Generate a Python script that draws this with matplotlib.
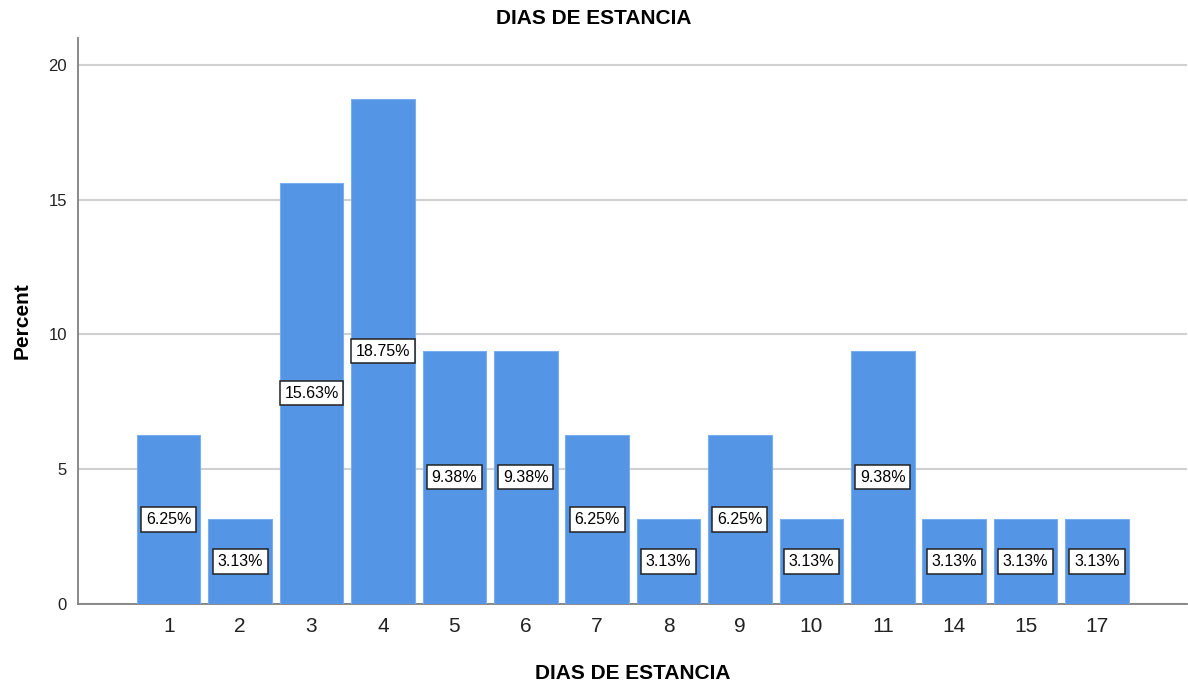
import matplotlib
matplotlib.use("Agg")
import matplotlib.pyplot as plt

categories = ["1", "2", "3", "4", "5", "6", "7", "8", "9", "10", "11", "14", "15", "17"]
percents = [6.25, 3.13, 15.63, 18.75, 9.38, 9.38, 6.25, 3.13, 6.25, 3.13, 9.38, 3.13, 3.13, 3.13]
yticks = [0, 5, 10, 15, 20]

plt.rcParams['font.family'] = ['Liberation Sans', 'DejaVu Sans']

fig = plt.figure(figsize=(11.88, 6.87), dpi=100)
ax = fig.add_axes([78/1188, 1-603.5/687, (1187-78)/1188, (603.5-38)/687])

x = list(range(len(categories)))
ax.bar(x, percents, width=0.89, color='#5595e5', edgecolor='#7aaeee', linewidth=0.8, zorder=3)

for xi, v in zip(x, percents):
    ax.text(xi, v/2, f"{v:.2f}%", ha='center', va='center', fontsize=11.5, color='black', zorder=5,
            bbox=dict(boxstyle='square,pad=0.3', facecolor='white', edgecolor='#222222', linewidth=1.1))

ax.set_xlim(-1.27, len(categories) - 1 + 1.26)
ax.set_ylim(0, 21)
ax.set_yticks(yticks)
ax.set_xticks(x)
ax.set_xticklabels(categories, fontsize=15, color='#222222')
ax.tick_params(axis='y', labelsize=12, colors='#222222', length=0, pad=8)
ax.tick_params(axis='x', length=0, pad=10)
ax.grid(axis='y', color='#d0d0d0', linewidth=1.5, zorder=0)
for s in ['top', 'right']:
    ax.spines[s].set_visible(False)
for s in ['left', 'bottom']:
    ax.spines[s].set_color('#808080')
    ax.spines[s].set_linewidth(1.3)

ax.set_ylabel("Percent", fontsize=15, fontweight='bold', labelpad=12)
ax.set_xlabel("DIAS DE ESTANCIA", fontsize=15, fontweight='bold', labelpad=20)
fig.text(594/1188, 1-19/687, "DIAS DE ESTANCIA", ha='center', va='center', fontsize=15, fontweight='bold')

fig.savefig("out.png", dpi=100)
